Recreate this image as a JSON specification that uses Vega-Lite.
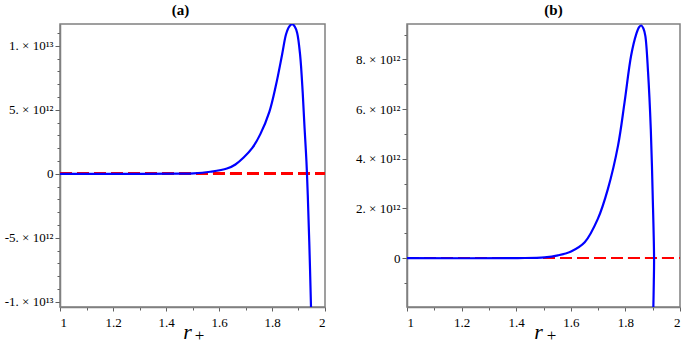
{
  "$schema": "https://vega.github.io/schema/vega-lite/v6.json",
  "padding": {"left": 3, "top": 2, "right": 0, "bottom": 0},
  "background": "white",
  "bounds": "flush",
  "spacing": 82,
  "config": {
    "view": {"stroke": "#808080", "strokeWidth": 1.5},
    "font": "Liberation Serif",
    "axis": {
      "labelFont": "Liberation Serif",
      "labelFontSize": 13,
      "labelColor": "black",
      "domainColor": "#808080",
      "domainWidth": 1.5,
      "tickColor": "#606060",
      "grid": false,
      "titleFont": "Liberation Serif",
      "titleColor": "black"
    },
    "title": {"font": "Liberation Serif", "fontSize": 15, "fontWeight": "bold", "color": "black"}
  },
  "datasets": {
    "a": [
      {"i": 0, "r": 1.0, "v": 0},
      {"i": 1, "r": 1.3, "v": 0},
      {"i": 2, "r": 1.45, "v": 0.01e12},
      {"i": 3, "r": 1.505, "v": 0.03e12},
      {"i": 4, "r": 1.567, "v": 0.16e12},
      {"i": 5, "r": 1.63, "v": 0.41e12},
      {"i": 6, "r": 1.662, "v": 0.73e12},
      {"i": 7, "r": 1.693, "v": 1.27e12},
      {"i": 8, "r": 1.725, "v": 2.0e12},
      {"i": 9, "r": 1.756, "v": 3.1e12},
      {"i": 10, "r": 1.79, "v": 4.84e12},
      {"i": 11, "r": 1.815, "v": 6.93e12},
      {"i": 12, "r": 1.838, "v": 9.3e12},
      {"i": 13, "r": 1.853, "v": 10.9e12},
      {"i": 14, "r": 1.865, "v": 11.5e12},
      {"i": 15, "r": 1.876, "v": 11.68e12},
      {"i": 16, "r": 1.886, "v": 11.5e12},
      {"i": 17, "r": 1.895, "v": 11.0e12},
      {"i": 18, "r": 1.906, "v": 9.3e12},
      {"i": 19, "r": 1.916, "v": 6.3e12},
      {"i": 20, "r": 1.923, "v": 3.54e12},
      {"i": 21, "r": 1.93, "v": 0.94e12},
      {"i": 22, "r": 1.935, "v": -1.66e12},
      {"i": 23, "r": 1.941, "v": -5.57e12},
      {"i": 24, "r": 1.947, "v": -10.26e12},
      {"i": 25, "r": 1.949, "v": -12e12}
    ],
    "b": [
      {"i": 0, "r": 1.0, "v": 0},
      {"i": 1, "r": 1.406, "v": 0},
      {"i": 2, "r": 1.504, "v": 0.03e12},
      {"i": 3, "r": 1.553, "v": 0.11e12},
      {"i": 4, "r": 1.601, "v": 0.27e12},
      {"i": 5, "r": 1.651, "v": 0.64e12},
      {"i": 6, "r": 1.699, "v": 1.58e12},
      {"i": 7, "r": 1.736, "v": 2.79e12},
      {"i": 8, "r": 1.773, "v": 4.53e12},
      {"i": 9, "r": 1.797, "v": 6.28e12},
      {"i": 10, "r": 1.821, "v": 8.16e12},
      {"i": 11, "r": 1.84, "v": 9.03e12},
      {"i": 12, "r": 1.85, "v": 9.3e12},
      {"i": 13, "r": 1.858, "v": 9.37e12},
      {"i": 14, "r": 1.866, "v": 9.25e12},
      {"i": 15, "r": 1.873, "v": 8.95e12},
      {"i": 16, "r": 1.883, "v": 7.49e12},
      {"i": 17, "r": 1.893, "v": 5.2e12},
      {"i": 18, "r": 1.9, "v": 2.52e12},
      {"i": 19, "r": 1.905, "v": 0},
      {"i": 20, "r": 1.904, "v": -1.0e12},
      {"i": 21, "r": 1.902, "v": -2.2e12}
    ]
  },
  "hconcat": [
    {
      "width": 265,
      "height": 283,
      "title": {"text": "(a)", "offset": 6, "dx": -12},
      "resolve": {"axis": {"x": "independent", "y": "independent"}},
      "layer": [
        {
          "data": {"name": "a"},
          "mark": {"type": "rule", "color": "#ff0000", "strokeWidth": 2, "strokeDash": [12, 5]},
          "encoding": {
            "x": {"datum": 1, "type": "quantitative", "scale": {"domain": [1, 2], "nice": false},
              "axis": {"orient": "bottom", "values": [1.1, 1.3, 1.5, 1.7, 1.9], "labels": false, "tickSize": 3, "domain": false,
                "title": "+", "titleFontSize": 17, "titleFontWeight": "normal", "titleBaseline": "alphabetic", "titleX": 139, "titleY": 33}},
            "x2": {"datum": 2},
            "y": {"datum": 0, "type": "quantitative", "scale": {"domain": [-1.04e13, 1.17e13], "nice": false, "zero": false},
              "axis": {"orient": "left", "values": [-9e12, -8e12, -7e12, -6e12, -4e12, -3e12, -2e12, -1e12, 1e12, 2e12, 3e12, 4e12, 6e12, 7e12, 8e12, 9e12, 11e12], "labels": false, "tickSize": 3, "domain": false, "title": null}}
          }
        },
        {
          "data": {"name": "a"},
          "mark": {"type": "line", "color": "#0000ff", "strokeWidth": 2.2, "clip": true, "interpolate": "catmull-rom"},
          "encoding": {
            "x": {"field": "r", "type": "quantitative",
              "axis": {"orient": "bottom", "values": [1, 1.2, 1.4, 1.6, 1.8, 2], "format": "~g", "tickSize": 4, "labelPadding": 5,
                "title": "r", "titleFontSize": 22, "titleFontStyle": "italic", "titleFontWeight": "normal", "titleBaseline": "alphabetic", "titleX": 127, "titleY": 31}},
            "y": {"field": "v", "type": "quantitative",
              "axis": {"orient": "left", "values": [-1e13, -5e12, 0, 5e12, 1e13], "tickSize": 5, "labelPadding": 2, "title": null,
                "labelExpr": "datum.value == 0 ? '0' : datum.value > 9e12 ? '1. × 10¹³' : datum.value > 4e12 ? '5. × 10¹²' : datum.value > -6e12 ? '-5. × 10¹²' : '-1. × 10¹³'"}},
            "order": {"field": "i"}
          }
        }
      ]
    },
    {
      "width": 273,
      "height": 283,
      "title": {"text": "(b)", "offset": 6, "dx": 10},
      "resolve": {"axis": {"x": "independent", "y": "independent"}},
      "layer": [
        {
          "data": {"name": "b"},
          "mark": {"type": "rule", "color": "#ff0000", "strokeWidth": 2, "strokeDash": [12, 5]},
          "encoding": {
            "x": {"datum": 1, "type": "quantitative", "scale": {"domain": [1, 2], "nice": false},
              "axis": {"orient": "bottom", "values": [1.1, 1.3, 1.5, 1.7, 1.9], "labels": false, "tickSize": 3, "domain": false,
                "title": "+", "titleFontSize": 17, "titleFontWeight": "normal", "titleBaseline": "alphabetic", "titleX": 144, "titleY": 33}},
            "x2": {"datum": 2},
            "y": {"datum": 0, "type": "quantitative", "scale": {"domain": [-1.97e12, 9.43e12], "nice": false, "zero": false},
              "axis": {"orient": "left", "values": [-1e12, 1e12, 3e12, 5e12, 7e12, 9e12], "labels": false, "tickSize": 3, "domain": false, "title": null}}
          }
        },
        {
          "data": {"name": "b"},
          "mark": {"type": "line", "color": "#0000ff", "strokeWidth": 2.2, "clip": true, "interpolate": "catmull-rom"},
          "encoding": {
            "x": {"field": "r", "type": "quantitative",
              "axis": {"orient": "bottom", "values": [1, 1.2, 1.4, 1.6, 1.8, 2], "format": "~g", "tickSize": 4, "labelPadding": 5,
                "title": "r", "titleFontSize": 22, "titleFontStyle": "italic", "titleFontWeight": "normal", "titleBaseline": "alphabetic", "titleX": 131, "titleY": 31}},
            "y": {"field": "v", "type": "quantitative",
              "axis": {"orient": "left", "values": [0, 2e12, 4e12, 6e12, 8e12], "tickSize": 5, "labelPadding": 2, "title": null,
                "labelExpr": "datum.value == 0 ? '0' : format(datum.value / 1e12, 'd') + '. × 10¹²'"}},
            "order": {"field": "i"}
          }
        }
      ]
    }
  ]
}
